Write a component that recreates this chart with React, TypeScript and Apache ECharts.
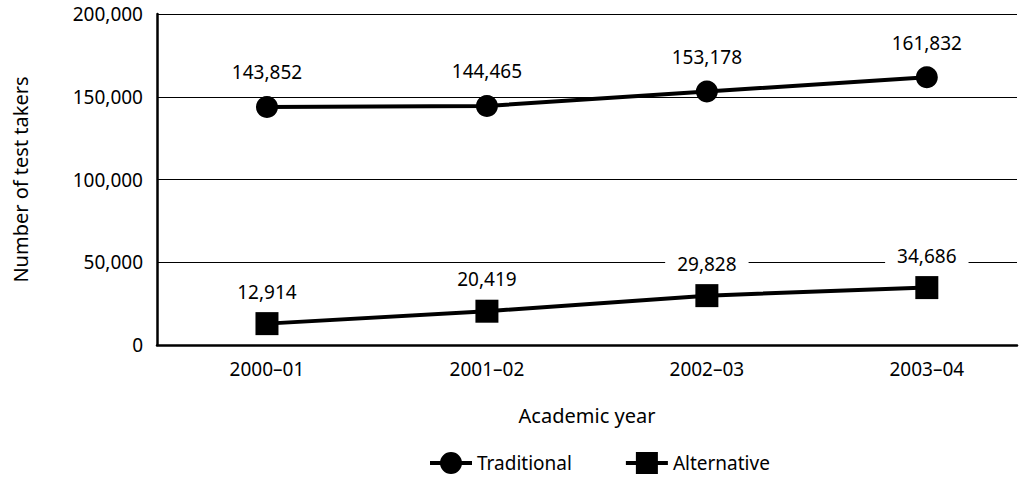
import React, { useEffect, useRef } from "react";
import * as echarts from "echarts";

const categories = ["2000–01", "2001–02", "2002–03", "2003–04"];
const traditional = [143852, 144465, 153178, 161832];
const alternative = [12914, 20419, 29828, 34686];
const yTicks = [0, 50000, 100000, 150000, 200000];

const FONT = "'Noto Sans', 'Open Sans', sans-serif";
const fmt = (v: number) => v.toLocaleString("en-US");

const ICON_CIRCLE =
  "path://M0,9h42v4h-42z M10,11a11,11 0 1,1 22,0a11,11 0 1,1 -22,0z";
const ICON_SQUARE = "path://M0,9h42v4h-42z M10,0h22v22h-22z";

export default function App() {
  const ref = useRef<HTMLDivElement>(null);
  useEffect(() => {
    if (!ref.current) return;
    const chart = echarts.init(ref.current, null, { renderer: "svg" });
    const labelBase = {
      show: true,
      position: "top",
      color: "#000",
      fontFamily: FONT,
      fontSize: 19,
      backgroundColor: "#fff",
      padding: [2, 12],
      formatter: (p: any) => fmt(p.value[1]),
    };
    chart.setOption({
      animation: false,
      textStyle: { fontFamily: FONT, color: "#000" },
      grid: { left: 157, top: 14, right: 6, bottom: 133 },
      xAxis: {
        type: "value",
        min: -0.5,
        max: 3.41,
        name: "Academic year",
        nameLocation: "middle",
        nameGap: 60,
        nameTextStyle: { fontSize: 20, color: "#000", fontFamily: FONT },
        axisLine: { show: true, onZero: false, lineStyle: { color: "#000", width: 2.5 } },
        axisTick: { show: false },
        splitLine: { show: false },
        axisLabel: {
          customValues: [0, 1, 2, 3],
          formatter: (v: number) => categories[Math.round(v)] ?? "",
          fontSize: 19,
          color: "#000",
          fontFamily: FONT,
          margin: 14,
        },
      },
      yAxis: {
        type: "value",
        min: yTicks[0],
        max: yTicks[yTicks.length - 1],
        interval: 50000,
        name: "Number of test takers",
        nameLocation: "middle",
        nameGap: 127,
        nameTextStyle: { fontSize: 20, color: "#000", fontFamily: FONT },
        axisLine: { show: true, onZero: false, lineStyle: { color: "#000", width: 2.5 } },
        axisTick: { show: false },
        splitLine: { show: true, lineStyle: { color: "#000", width: 1 } },
        axisLabel: {
          formatter: (v: number) => fmt(v),
          fontSize: 19,
          color: "#000",
          fontFamily: FONT,
          margin: 14,
        },
      },
      legend: {
        top: 447,
        left: 425,
        itemWidth: 42,
        itemHeight: 22,
        itemGap: 54,
        itemStyle: { color: "#000", borderWidth: 0 },
        lineStyle: { width: 0 },
        textStyle: { fontSize: 19, color: "#000", fontFamily: FONT, padding: [0, 0, 0, 0] },
        data: [
          { name: "Traditional", icon: ICON_CIRCLE },
          { name: "Alternative", icon: ICON_SQUARE },
        ],
      },
      series: [
        {
          name: "Traditional",
          type: "line",
          data: traditional.map((v, i) => [i, v]),
          symbol: "circle",
          symbolSize: 22,
          lineStyle: { color: "#000", width: 4 },
          itemStyle: { color: "#000" },
          label: { ...labelBase, distance: 12 },
          z: 3,
        },
        {
          name: "Alternative",
          type: "line",
          data: alternative.map((v, i) => [i, v]),
          symbol: "rect",
          symbolSize: 23,
          lineStyle: { color: "#000", width: 4 },
          itemStyle: { color: "#000" },
          label: { ...labelBase, distance: 9 },
          z: 3,
        },
      ],
    });
    return () => chart.dispose();
  }, []);
  return (
    <div
      ref={ref}
      style={{ position: "fixed", left: 0, top: 0, width: 1023, height: 478, background: "#fff" }}
    />
  );
}
